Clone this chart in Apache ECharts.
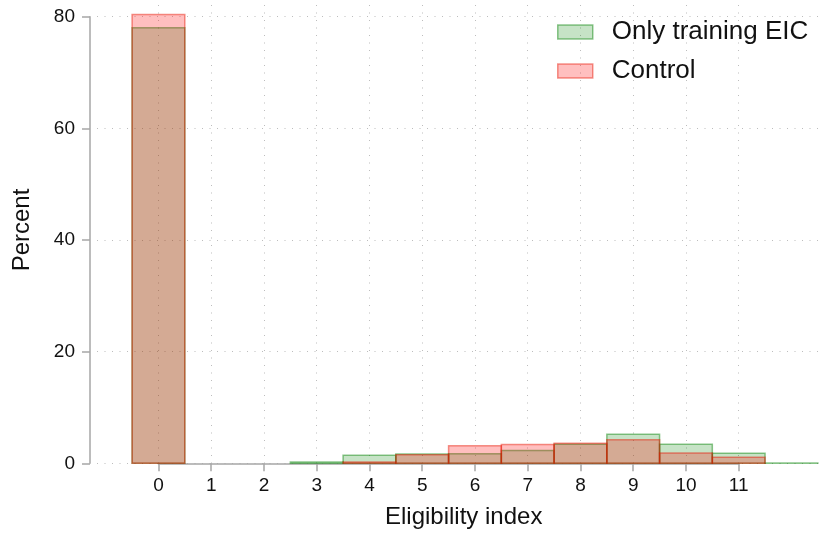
<!DOCTYPE html>
<html>
<head>
<meta charset="utf-8">
<script src="https://cdn.jsdelivr.net/npm/echarts@6/dist/echarts.min.js"></script>
<style>html,body{margin:0;padding:0;background:#fff}#c{width:821px;height:536px}</style>
</head>
<body>
<div id="c"></div>
<script>
const bins = [0, 1, 2, 3, 4, 5, 6, 7, 8, 9, 10, 11, 12];
const trainingEIC = [78.0, 0, 0, 0.25, 1.43, 1.66, 1.73, 2.3, 3.4, 5.2, 3.4, 1.8, 0.05];
const control = [80.4, 0, 0, 0, 0.25, 1.55, 3.15, 3.35, 3.6, 4.2, 1.85, 1.07, 0];
const xTicks = [0, 1, 2, 3, 4, 5, 6, 7, 8, 9, 10, 11];
const yTicks = [0, 20, 40, 60, 80];
const seriesNames = ['Only training EIC', 'Control'];
const xTitle = 'Eligibility index';
const yTitle = 'Percent';

const FONT = '"Liberation Sans", Arial, sans-serif';
const AXIS = '#a6a6a6';
const GRIDC = '#bdbdbd';
const greenFill = 'rgba(0,128,0,0.225)', greenLine = 'rgba(0,128,0,0.45)';
const redFill = 'rgba(255,0,0,0.25)', redLine = 'rgba(230,20,0,0.45)';

function mk(vals){ return bins.map((b,i)=>[b, vals[i]]); }
function renderer(fill, stroke){
  return function(params, api){
    const x = api.value(0), v = api.value(1);
    if (!v) return null;
    const p0 = api.coord([x - 0.5, v]);
    const p1 = api.coord([x + 0.5, 0]);
    return {type:'rect', shape:{x:p0[0], y:p0[1], width:p1[0]-p0[0], height:p1[1]-p0[1]},
      style:{fill:fill, stroke:stroke, lineWidth:1.5}};
  };
}

const chart = echarts.init(document.getElementById('c'), null, {renderer:'canvas'});
chart.setOption({
  animation:false,
  backgroundColor:'#fff',
  textStyle:{fontFamily:FONT},
  grid:[
    {left:158.45, right:82.3, top:16.7, bottom:72.7},
    {left:158.45, right:82.3, top:5, bottom:72.7},
    {left:97, right:1, top:16.7, bottom:72.7}
  ],
  xAxis:[
    {gridIndex:0, type:'value', min:0, max:11, show:false},
    {gridIndex:1, type:'value', min:0, max:11, interval:1,
      axisLine:{show:true, onZero:false, lineStyle:{color:AXIS, width:1.5}},
      axisTick:{show:true, length:8, lineStyle:{color:AXIS, width:1.5}},
      axisLabel:{fontSize:19, color:'#111', margin:13, fontFamily:FONT,
        formatter:v=> xTicks.includes(v) ? String(v) : ''},
      splitLine:{show:true, lineStyle:{color:GRIDC, type:[1,6.5], width:1}}},
    {gridIndex:2, type:'value', min:0, max:1, show:false}
  ],
  yAxis:[
    {gridIndex:0, type:'value', min:0, max:80, show:false},
    {gridIndex:1, type:'value', min:0, max:1, show:false},
    {gridIndex:2, type:'value', min:0, max:80, interval:20, offset:7,
      axisLine:{show:true, onZero:false, lineStyle:{color:AXIS, width:1.5}},
      axisTick:{show:true, length:8, lineStyle:{color:AXIS, width:1.5}},
      axisLabel:{fontSize:19, color:'#111', margin:15, fontFamily:FONT,
        formatter:v=> yTicks.includes(v) ? String(v) : ''},
      splitLine:{show:true, lineStyle:{color:GRIDC, type:[1,6.5], width:1}}}
  ],
  graphic:[
    {type:'text', left:463 - 78, top:505, style:{text:xTitle, fontSize:24, fill:'#111', fontFamily:FONT}},
    {type:'text', x:10, y:230, rotation:Math.PI/2,
      style:{text:yTitle, fontSize:24, fill:'#111', fontFamily:FONT, align:'center', verticalAlign:'top'}}
  ],
  legend:{
    orient:'vertical', left:552, top:14, itemWidth:35, itemHeight:14, itemGap:13,
    textStyle:{fontSize:26, color:'#111', fontFamily:FONT, padding:[0,0,0,14]},
    data:[
      {name:seriesNames[0], icon:'rect', itemStyle:{color:greenFill, borderColor:greenLine, borderWidth:1.5}},
      {name:seriesNames[1], icon:'rect', itemStyle:{color:redFill, borderColor:redLine, borderWidth:1.5}}
    ]
  },
  series:[
    {name:seriesNames[0], type:'custom', xAxisIndex:0, yAxisIndex:0, clip:false,
      itemStyle:{color:greenFill, borderColor:greenLine},
      renderItem:renderer(greenFill, greenLine), data:mk(trainingEIC)},
    {name:seriesNames[1], type:'custom', xAxisIndex:0, yAxisIndex:0, clip:false,
      itemStyle:{color:redFill, borderColor:redLine},
      renderItem:renderer(redFill, redLine), data:mk(control)}
  ]
});
</script>
</body>
</html>
